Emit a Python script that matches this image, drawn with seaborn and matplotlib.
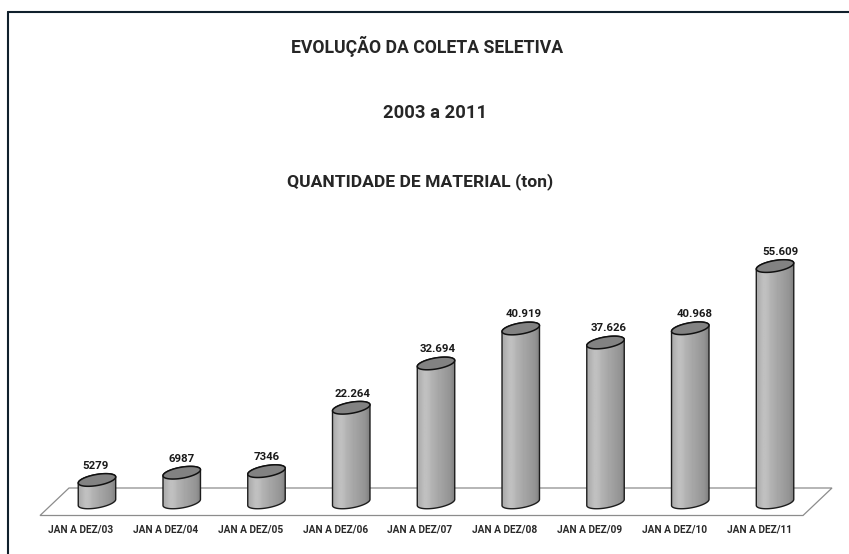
import numpy as np
import pandas as pd
import matplotlib
matplotlib.use("Agg")
import matplotlib.pyplot as plt
from matplotlib.patches import Polygon
from matplotlib.transforms import Affine2D, IdentityTransform, ScaledTranslation
from matplotlib.lines import Line2D
import seaborn as sns

periodos = ["JAN A DEZ/03", "JAN A DEZ/04", "JAN A DEZ/05", "JAN A DEZ/06", "JAN A DEZ/07",
            "JAN A DEZ/08", "JAN A DEZ/09", "JAN A DEZ/10", "JAN A DEZ/11"]
toneladas = [5279, 6987, 7346, 22264, 32694, 40919, 37626, 40968, 55609]
rotulos = ["5279", "6987", "7346", "22.264", "32.694", "40.919", "37.626", "40.968", "55.609"]
titulos = ["EVOLUÇÃO DA COLETA SELETIVA", "2003 a 2011", "QUANTIDADE DE MATERIAL (ton)"]

W, H = 849, 554
sns.set_theme(style="white")
plt.rcParams['font.family'] = ['Roboto', 'DejaVu Sans']

fig = plt.figure(figsize=(W / 100, H / 100), dpi=100)
px = Affine2D().scale(1, -1).translate(0, H)  # coordenadas em pixels da imagem

# eixo: base das barras em y=502.4 px, 0.00425 px por tonelada
esc = 0.00425
base = 502.4
ax = fig.add_axes([54.6 / W, 1 - 515.5 / H, (817.4 - 54.6) / W, (515.5 - 200) / H])
df = pd.DataFrame({"periodo": periodos, "ton": toneladas})
sns.barplot(data=df, x="periodo", y="ton", width=0.43, color="#aaaaaa", ax=ax, zorder=3)
ax.set_xlabel("")
ax.set_ylabel("")
ax.set_yticks([])
sns.despine(ax=ax, left=True, bottom=True)
ax.patch.set_alpha(0)
ax.tick_params(axis="x", length=0, pad=6.5)
# os rotulos do eixo ficam deslocados para a esquerda das barras
desloc = ScaledTranslation(-16 / 100, 0, fig.dpi_scale_trans)
for t in ax.get_xticklabels():
    t.set_fontsize(7.3)
    t.set_fontweight("bold")
    t.set_color("#2a2a2a")
    t.set_transform(t.get_transform() + desloc)

# moldura (so topo e esquerda) e piso
fig.add_artist(Line2D([8, 8], [12, H], transform=px, color="#10202c", lw=1.5))
fig.add_artist(Line2D([8, W], [12, 12], transform=px, color="#10202c", lw=1.5))
fig.add_artist(Polygon([[40, 515.5], [803, 515.5], [832, 488], [69, 488]], closed=True, transform=px,
                       facecolor="white", edgecolor="#8c8c8c", lw=0.9, zorder=0))

# titulos
for txt, x, y, fs in zip(titulos, [427, 435, 420], [46, 113, 182], [12.7, 13.2, 12.6]):
    fig.text(x / W, 1 - y / H, txt, ha="center", va="center", fontsize=fs, fontweight="bold", color="#262626")

# cilindros desenhados a partir das barras do seaborn
faixa = np.array([[172, 176, 184, 192, 192, 188, 180, 176, 172, 166, 164, 160, 156, 152, 148, 138, 125]], dtype=float)
a, b, th = 19.0, 5.5, np.radians(10)
t0 = np.arctan2(-b * np.sin(th), a * np.cos(th))

def arco(ini, fim, cx, cy):
    t = np.linspace(ini, fim, 60)
    x = cx + a * np.cos(t) * np.cos(th) - b * np.sin(t) * np.sin(th)
    y = cy + a * np.cos(t) * np.sin(th) + b * np.sin(t) * np.cos(th)
    return np.column_stack([x, y])

ax.set_ylim(-(515.5 - base) / esc, (base - 200) / esc)
ax.set_xlim(-0.5, 8.5)
container = ax.containers[0]
for bar in container:
    x0 = bar.get_x()
    x1 = x0 + bar.get_width()
    topo = bar.get_height()
    p = ax.transData.transform([[x0 + bar.get_width() / 2, 0], [x0 + bar.get_width() / 2, topo]])
    cx, yb, yt = p[0, 0], p[0, 1], p[1, 1]
    corpo = np.vstack([arco(t0 - np.pi, t0, cx, yb), arco(t0, t0 + np.pi, cx, yt)])
    poly = Polygon(corpo, closed=True, facecolor="none", edgecolor="#1c1c1c", lw=1.0, zorder=5)
    ax.add_patch(poly)
    poly.set_transform(IdentityTransform())
    im = ax.imshow(faixa, extent=[x0 - 0.02, x1 + 0.02, -3000, topo + 3000], aspect="auto", cmap="gray",
                   vmin=0, vmax=255, interpolation="bilinear", zorder=4)
    im.set_clip_path(poly)
    tampa = Polygon(arco(0, 2 * np.pi, cx, yt), closed=True, facecolor="#828282", edgecolor="#111111", lw=1.1, zorder=6)
    ax.add_patch(tampa)
    tampa.set_transform(IdentityTransform())
    bar.set_visible(False)

ax.set_ylim(-(515.5 - base) / esc, (base - 200) / esc)
ax.set_xlim(-0.5, 8.5)
textos = ax.bar_label(container, labels=rotulos, padding=6.5, fontsize=8.2, fontweight="bold", color="#1a1a1a", zorder=7)
# os valores derivam um pouco para a direita ao longo do eixo
for i, t in enumerate(textos):
    t.xyann = ((0.75 * i - 1) * 0.72, t.xyann[1])

fig.savefig("out.png", dpi=100)
